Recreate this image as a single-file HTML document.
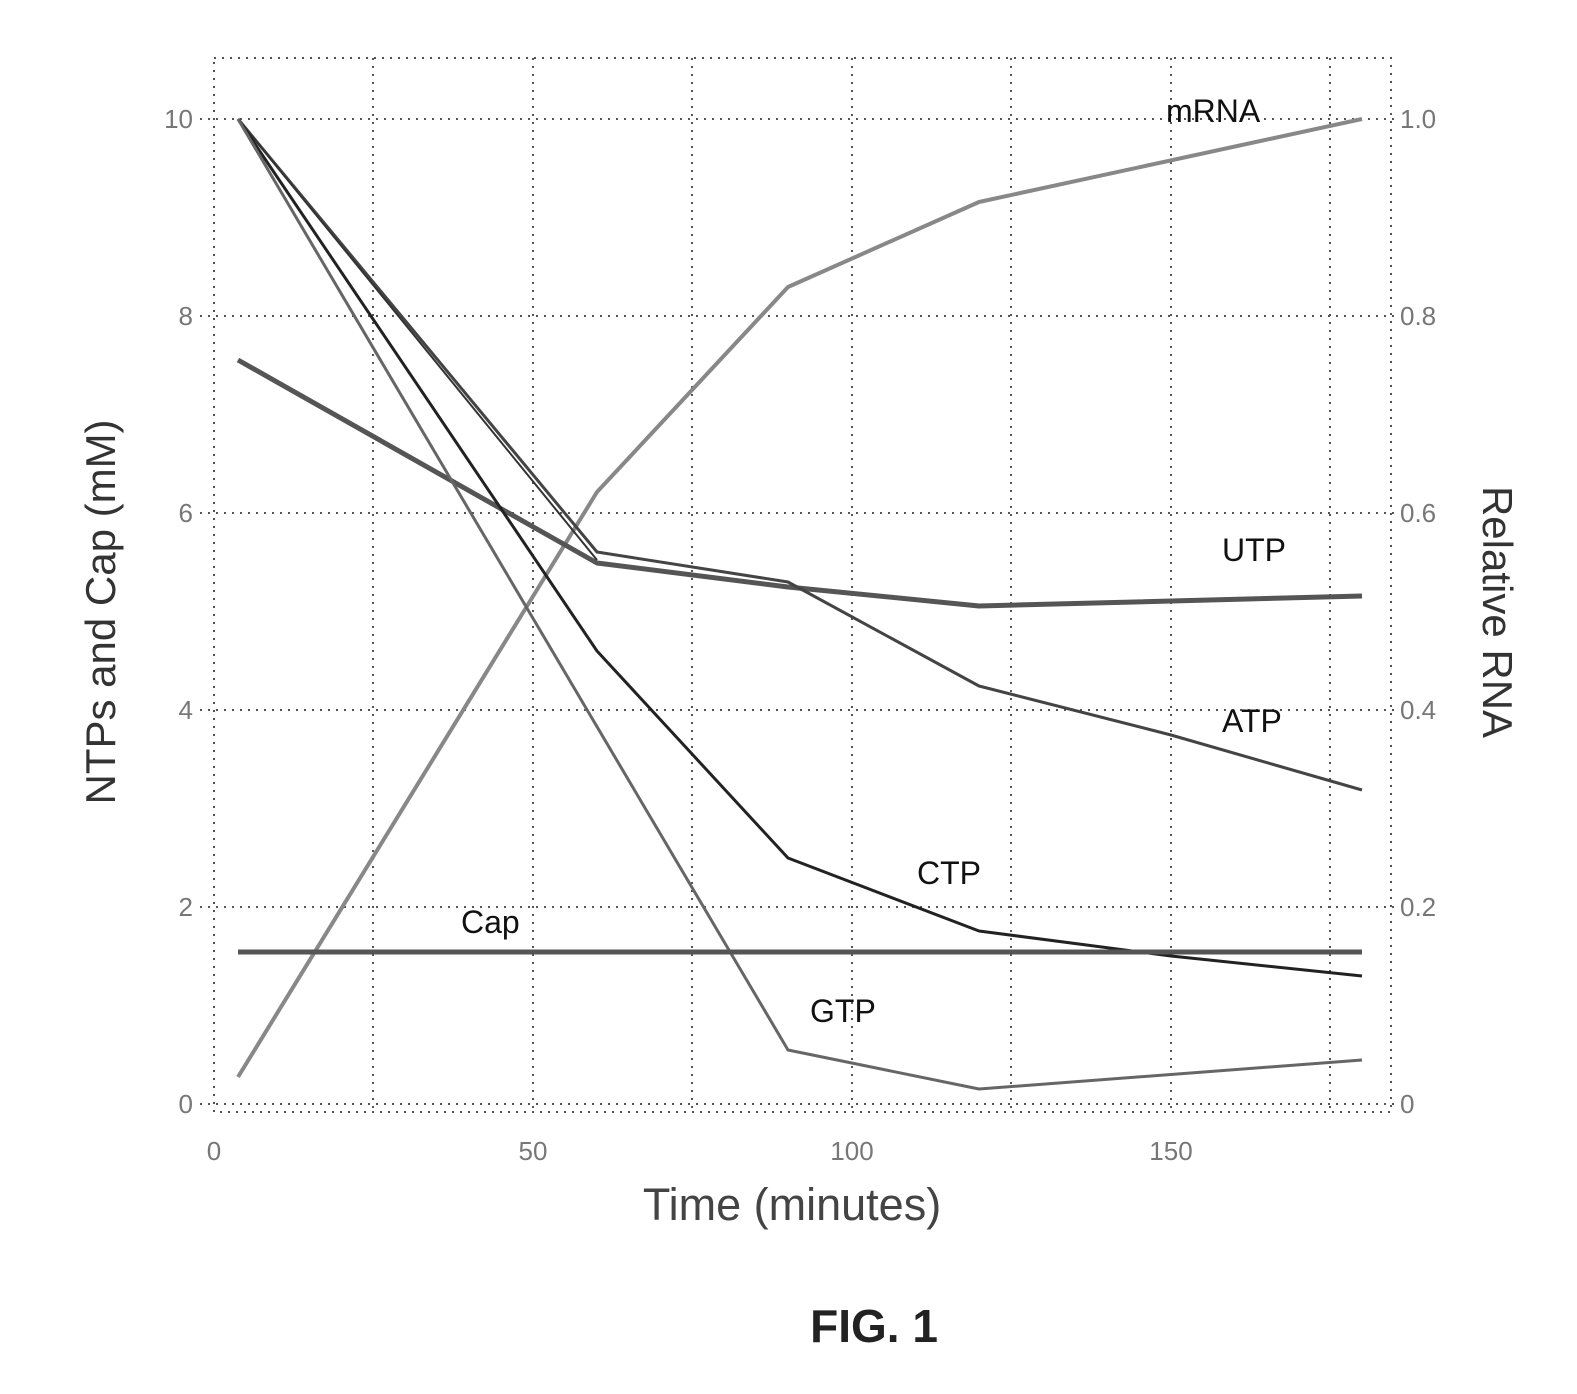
<!DOCTYPE html>
<html><head><meta charset="utf-8"><style>
html,body{margin:0;padding:0;background:#fff;}
svg{display:block;font-family:"Liberation Sans",sans-serif;}
</style></head><body>
<svg width="1577" height="1394" viewBox="0 0 1577 1394" xmlns="http://www.w3.org/2000/svg">
<g stroke="#555" stroke-width="2" stroke-dasharray="2,6" fill="none">
<rect x="214" y="58" width="1177" height="1054"/>
<line x1="373" y1="58" x2="373" y2="1112"/>
<line x1="533" y1="58" x2="533" y2="1112"/>
<line x1="692" y1="58" x2="692" y2="1112"/>
<line x1="852" y1="58" x2="852" y2="1112"/>
<line x1="1011" y1="58" x2="1011" y2="1112"/>
<line x1="1171" y1="58" x2="1171" y2="1112"/>
<line x1="1330" y1="58" x2="1330" y2="1112"/>
<line x1="200" y1="119" x2="1400" y2="119"/>
<line x1="200" y1="316" x2="1400" y2="316"/>
<line x1="200" y1="513" x2="1400" y2="513"/>
<line x1="200" y1="710" x2="1400" y2="710"/>
<line x1="200" y1="907" x2="1400" y2="907"/>
<line x1="200" y1="1104" x2="1400" y2="1104"/>
</g>
<g fill="none" stroke-linejoin="round">
<polyline stroke="#888" stroke-width="4" points="238,1077 597,492 788,287 979,202 1362,119"/>
<polyline stroke="#555" stroke-width="5" points="238,360 597,563 788,587 979,606 1362,596"/>
<polyline stroke="#444" stroke-width="3" points="238,119 597,552 788,582 979,686 1171,735 1362,790"/>
<polyline stroke="#333" stroke-width="2" points="238,119 597,560"/>
<polyline stroke="#222" stroke-width="3" points="238,119 597,651 788,858 979,931 1171,956 1362,976"/>
<polyline stroke="#666" stroke-width="3" points="238,119 788,1050 979,1089 1362,1060"/>
<line stroke="#555" stroke-width="5" x1="238" y1="952" x2="1362" y2="952"/>
</g>
<g fill="#777" font-size="26" text-anchor="end">
<text x="193" y="128">10</text><text x="193" y="325">8</text><text x="193" y="522">6</text>
<text x="193" y="719">4</text><text x="193" y="916">2</text><text x="193" y="1113">0</text>
</g>
<g fill="#777" font-size="26" text-anchor="start">
<text x="1400" y="128">1.0</text><text x="1400" y="325">0.8</text><text x="1400" y="522">0.6</text>
<text x="1400" y="719">0.4</text><text x="1400" y="916">0.2</text><text x="1400" y="1113">0</text>
</g>
<g fill="#777" font-size="26" text-anchor="middle">
<text x="214" y="1160">0</text><text x="533" y="1160">50</text><text x="852" y="1160">100</text><text x="1171" y="1160">150</text>
</g>
<g fill="#111" font-size="32">
<text x="1166" y="122">mRNA</text>
<text x="1222" y="561">UTP</text>
<text x="1222" y="732">ATP</text>
<text x="917" y="884">CTP</text>
<text x="461" y="933">Cap</text>
<text x="810" y="1022">GTP</text>
</g>
<text x="792" y="1220" font-size="45" fill="#444" text-anchor="middle">Time (minutes)</text>
<text transform="translate(115,612) rotate(-90)" font-size="42" fill="#333" text-anchor="middle">NTPs and Cap (mM)</text>
<text transform="translate(1483,612) rotate(90)" font-size="42" fill="#333" text-anchor="middle">Relative RNA</text>
<text x="874" y="1342" font-size="46" font-weight="bold" fill="#222" text-anchor="middle">FIG. 1</text>
</svg>
</body></html>
